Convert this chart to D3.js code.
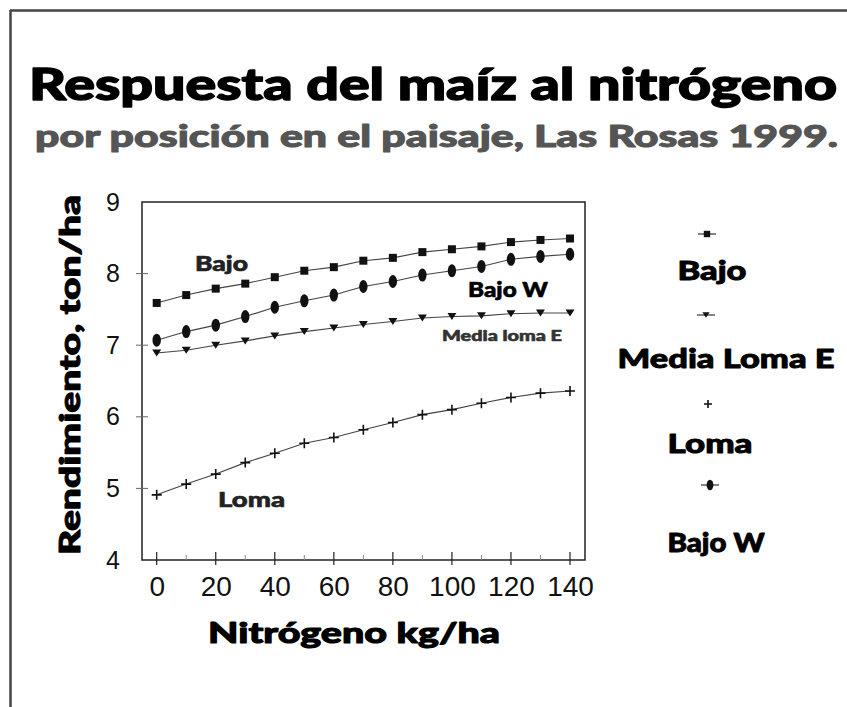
<!DOCTYPE html>
<html>
<head>
<meta charset="utf-8">
<script src="https://cdn.jsdelivr.net/npm/d3@7"></script>
<style>
  html, body { margin: 0; padding: 0; background: #fff; }
  svg { display: block; }
  .heavy { font-family: "Lato", "DejaVu Sans", sans-serif; font-weight: 900; stroke-linejoin: round; }
  .tick text { font-family: "Liberation Sans", Arial, sans-serif; fill: #111; }
</style>
</head>
<body>
<svg id="chart" width="847" height="707"></svg>
<script>
// ---- data ----
const nitrogen = [0, 10, 20, 30, 40, 50, 60, 70, 80, 90, 100, 110, 120, 130, 140];
const bajo      = [7.59, 7.70, 7.79, 7.86, 7.95, 8.04, 8.09, 8.18, 8.22, 8.30, 8.34, 8.38, 8.44, 8.47, 8.49];
const bajoW     = [7.07, 7.19, 7.28, 7.40, 7.53, 7.62, 7.70, 7.82, 7.89, 7.98, 8.04, 8.10, 8.20, 8.24, 8.27];
const mediaLoma = [6.89, 6.93, 7.00, 7.06, 7.13, 7.19, 7.24, 7.29, 7.33, 7.38, 7.40, 7.41, 7.44, 7.45, 7.45];
const loma      = [4.91, 5.06, 5.20, 5.36, 5.49, 5.63, 5.71, 5.82, 5.92, 6.03, 6.10, 6.19, 6.27, 6.33, 6.36];
const xTicks = [0, 20, 40, 60, 80, 100, 120, 140];
const xMinorTicks = [10, 30, 50, 70, 90, 110, 130];
const yTicks = [4, 5, 6, 7, 8, 9];
const legendNames = ["Bajo", "Media Loma E", "Loma", "Bajo W"];

const title = "Respuesta del maíz al nitrógeno";
const subtitle = "por posición en el paisaje, Las Rosas 1999.";
const xTitle = "Nitrógeno kg/ha";
const yTitle = "Rendimiento, ton/ha";

// ---- layout ----
const svg = d3.select("#chart");
const plot = { left: 142, right: 585, top: 202, bottom: 560 };

const x = d3.scaleLinear().domain([0, 140]).range([156.7, 570]);
const y = d3.scaleLinear().domain([4, 9]).range([plot.bottom, plot.top]);

function heavyText(sel, fill, sw) {
  return sel.attr("class", "heavy").attr("fill", fill).attr("stroke", fill).attr("stroke-width", sw);
}

// outer frame (top & left edges)
svg.append("line").attr("x1", 10).attr("y1", 10.5).attr("x2", 847).attr("y2", 10.5)
  .attr("stroke", "#444").attr("stroke-width", 2.5);
svg.append("line").attr("x1", 10.5).attr("y1", 10).attr("x2", 10.5).attr("y2", 707)
  .attr("stroke", "#444").attr("stroke-width", 2.5);

// titles
heavyText(svg.append("text"), "#000", 1.4)
  .attr("x", 29).attr("y", 100).attr("font-size", 44)
  .attr("textLength", 808).attr("lengthAdjust", "spacingAndGlyphs").text(title);
heavyText(svg.append("text"), "#555", 1.0)
  .attr("x", 35).attr("y", 147).attr("font-size", 30)
  .attr("textLength", 803).attr("lengthAdjust", "spacingAndGlyphs").text(subtitle);

// plot frame
svg.append("rect")
  .attr("x", plot.left).attr("y", plot.top)
  .attr("width", plot.right - plot.left).attr("height", plot.bottom - plot.top)
  .attr("fill", "none").attr("stroke", "#222").attr("stroke-width", 1.5);

// y axis labels
const yAxis = svg.append("g").attr("transform", `translate(${plot.left},0)`)
  .call(d3.axisLeft(y).tickValues(yTicks).tickSize(0).tickPadding(22).tickFormat(d3.format("d")));
yAxis.select(".domain").remove();
yAxis.selectAll("text").attr("font-size", 25);

// y ticks crossing the left frame
svg.append("g").selectAll("line").data(yTicks.slice(1, -1)).join("line")
  .attr("x1", plot.left - 6).attr("x2", plot.left + 6)
  .attr("y1", d => y(d)).attr("y2", d => y(d))
  .attr("stroke", "#666").attr("stroke-width", 1);

// x axis labels
const xAxis = svg.append("g").attr("transform", `translate(0,${plot.bottom})`)
  .call(d3.axisBottom(x).tickValues(xTicks).tickSize(0).tickPadding(16).tickFormat(d3.format("d")));
xAxis.select(".domain").remove();
xAxis.selectAll("text").attr("font-size", 28);

// x ticks
svg.append("g").selectAll("line").data(xTicks).join("line")
  .attr("x1", d => x(d)).attr("x2", d => x(d))
  .attr("y1", plot.bottom - 8).attr("y2", plot.bottom + 5)
  .attr("stroke", "#222").attr("stroke-width", 1.2);
svg.append("g").selectAll("line").data(xMinorTicks).join("line")
  .attr("x1", d => x(d)).attr("x2", d => x(d))
  .attr("y1", plot.bottom - 5).attr("y2", plot.bottom)
  .attr("stroke", "#888").attr("stroke-width", 1);

// axis titles
heavyText(svg.append("text"), "#000", 1.0)
  .attr("x", 354).attr("y", 643).attr("text-anchor", "middle").attr("font-size", 28)
  .attr("textLength", 292).attr("lengthAdjust", "spacingAndGlyphs").text(xTitle);
heavyText(svg.append("text"), "#000", 1.0)
  .attr("transform", "translate(80,375) rotate(-90)").attr("text-anchor", "middle")
  .attr("font-size", 28)
  .attr("textLength", 360).attr("lengthAdjust", "spacingAndGlyphs").text(yTitle);

// ---- series ----
const line = d3.line().x(d => x(d[0])).y(d => y(d[1]));
const seriesList = [
  { name: "Bajo", values: bajo, marker: "square" },
  { name: "Media loma E", values: mediaLoma, marker: "triangle" },
  { name: "Loma", values: loma, marker: "cross" },
  { name: "Bajo W", values: bajoW, marker: "ellipse" }
];

function drawMarker(g, type, scale) {
  const s = scale || 1;
  if (type === "square") {
    g.append("rect").attr("x", -4 * s).attr("y", -4 * s).attr("width", 8 * s).attr("height", 8 * s).attr("fill", "#111");
  } else if (type === "triangle") {
    g.append("path").attr("d", `M${-4.5 * s},${-3.5 * s}L${4.5 * s},${-3.5 * s}L0,${3.5 * s}Z`).attr("fill", "#111");
  } else if (type === "cross") {
    g.append("path").attr("d", `M${-5 * s},0H${5 * s}M0,${-5 * s}V${5 * s}`).attr("stroke", "#111").attr("stroke-width", 1.6);
  } else if (type === "ellipse") {
    g.append("ellipse").attr("rx", 4.2 * s).attr("ry", 6.5 * s).attr("fill", "#111");
  }
}

seriesList.forEach(s => {
  const pts = nitrogen.map((n, i) => [n, s.values[i]]);
  svg.append("path").datum(pts).attr("d", line)
    .attr("fill", "none").attr("stroke", "#444").attr("stroke-width", 1.1);
  pts.forEach(p => {
    const g = svg.append("g").attr("transform", `translate(${x(p[0])},${y(p[1])})`);
    drawMarker(g, s.marker, 1);
  });
});

// in-plot labels
const inLabels = [
  { text: "Bajo", x: 195, y: 271, size: 20, len: 53, fill: "#222" },
  { text: "Bajo W", x: 468, y: 297, size: 20, len: 80, fill: "#000" },
  { text: "Media loma E", x: 442, y: 341, size: 15, len: 120, fill: "#333" },
  { text: "Loma", x: 218, y: 507, size: 21, len: 67, fill: "#222" }
];
inLabels.forEach(l => {
  heavyText(svg.append("text"), l.fill, 0.6)
    .attr("x", l.x).attr("y", l.y).attr("font-size", l.size)
    .attr("textLength", l.len).attr("lengthAdjust", "spacingAndGlyphs").text(l.text);
});

// ---- legend ----
const legendItems = [
  { marker: "square", mx: 707, my: 234, tx: 712, ty: 280, len: 69, size: 27 },
  { marker: "triangle", mx: 706, my: 315, tx: 726, ty: 368, len: 217, size: 27 },
  { marker: "cross", mx: 708, my: 404, tx: 710, ty: 453, len: 85, size: 27 },
  { marker: "ellipse", mx: 710, my: 485, tx: 716, ty: 552, len: 97, size: 26 }
];
legendItems.forEach((it, i) => {
  const g = svg.append("g").attr("transform", `translate(${it.mx},${it.my})`);
  if (it.marker !== "cross") {
    g.append("line").attr("x1", -9).attr("x2", 9).attr("stroke", "#333").attr("stroke-width", 1.2);
  }
  drawMarker(g, it.marker, 0.8);
  heavyText(svg.append("text"), "#000", 0.9)
    .attr("x", it.tx).attr("y", it.ty).attr("text-anchor", "middle").attr("font-size", it.size)
    .attr("textLength", it.len).attr("lengthAdjust", "spacingAndGlyphs").text(legendNames[i]);
});
</script>
</body>
</html>
